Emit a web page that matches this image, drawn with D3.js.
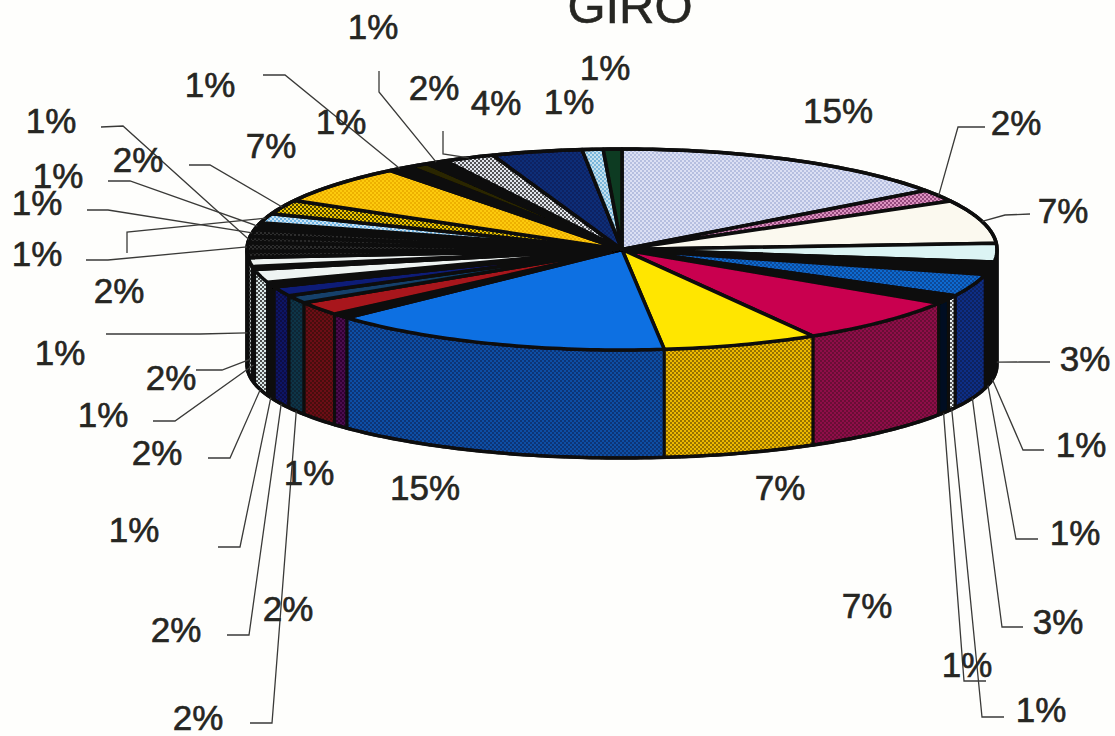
<!DOCTYPE html>
<html>
<head>
<meta charset="utf-8">
<script src="https://cdn.jsdelivr.net/npm/d3@7"></script>
<style>
html, body { margin: 0; padding: 0; background: #fefefc; }
svg { display: block; }
text { font-family: "Liberation Sans", Arial, sans-serif; fill: #262622; stroke: #262622; stroke-width: 0.6px; }
</style>
</head>
<body>
<div id="chart"></div>
<script>
const width = 1115, height = 736;
const title = 'GIRO';

// slice sizes read from the rim, clockwise from 12 o'clock
const values = [15, 2, 7, 3, 1, 1, 3.6, 0.6, 0.8, 7.5, 6.7, 14.9,
    0.8, 2.2, 1.3, 1.5, 0.8, 2.1, 0.5, 1.4,
    1, 1.4, 1, 1.1, 1.1, 1.5, 2.3, 6.3,
    1, 0.9, 0.9, 2.2, 3.9, 0.9, 0.8];
// printed labels
const labels = ['15%', '2%', '7%', '3%', '1%', '1%', '3%', '1%', '1%', '7%', '7%', '15%',
    '1%', '2%', '2%', '2%', '1%', '2%', '1%', '2%',
    '1%', '1%', '1%', '1%', '1%', '2%', '2%', '7%',
    '1%', '1%', '1%', '2%', '4%', '1%', '1%'];
// [base, dot] of the top face
const topFills = [['#dce0f4', '#aab4da'], ['#dd93c0', '#7c2f66'], ['#fbf9ef'], ['#dcf4f4'], ['#0a0a0a'], ['#0a0a0a'],
    ['#0d6ad0', '#0a3f86'], ['#0a0a0a'], ['#0a0a0a'], ['#c9024f'], ['#ffe600'], ['#0a6fe2'],
    ['#0a0a0a'], ['#a8161a'], ['#12406a'], ['#0c1c78'], ['#0a0a0a'], ['#eef3f2'], ['#0a0a0a'], ['#eef3f2'],
    ['#0c0c0c', '#333'], ['#0c0c0c', '#3a3a3a'], ['#0c0c0c', '#333'], ['#0c0c0c', '#3a3a3a'], ['#0a0a0a'],
    ['#6fb4e4', '#eef6fa'], ['#eec400', '#1a1a00'], ['#fdca0a', '#e8a800'],
    ['#0a0a0a'], ['#2a2500'], ['#0a0a0a'], ['#e2e6ec', '#222'], ['#0b2d78', '#08205a'], ['#7ab6da', '#dff0f6'], ['#0a3a20']];
// [base, dot] of the wall, only the front half shows
const sideFills = [['#fff'], ['#fff'], ['#fff'], ['#d8dfe0', '#111'], ['#0a0a0a'], ['#0a0a0a'],
    ['#0b2f86', '#071c50'], ['#e8eef0', '#222'], ['#060a20'], ['#8f0c48', '#5c0530'], ['#eeb900', '#7a5a00'], ['#0b4fa6', '#082c66'],
    ['#4c0c50', '#280428'], ['#6c1018', '#3a060c'], ['#0c3448', '#05202e'], ['#0a1266', '#050a3a'], ['#0a0a0a'], ['#dbe8e8', '#1a1a1a'], ['#0a0a0a'], ['#dfe6e6', '#111'],
    ['#0a0a0a'], ['#0a0a0a'], ['#0a0a0a'], ['#0a0a0a'], ['#0a0a0a'], ['#0a0a0a'], ['#0a0a0a'], ['#0a0a0a'],
    ['#0a0a0a'], ['#0a0a0a'], ['#0a0a0a'], ['#0a0a0a'], ['#0a0a0a'], ['#0a0a0a'], ['#0a0a0a']];
// label centres in px
const labelSpots = [[838, 110], [1016, 122], [1063, 210], [1085, 358], [1081, 444], [1075, 532], [1058, 621], [1041, 709], [967, 664], [867, 605], [780, 487], [425, 487],
    [309, 472], [288, 608], [198, 717], [176, 629], [134, 529], [157, 452], [103, 414], [171, 377],
    [60, 352], [37, 253], [51, 120], [37, 202], [58, 175], [119, 290], [138, 159], [271, 145],
    [210, 84], [341, 121], [373, 26], [434, 87], [496, 102], [569, 101], [605, 67]];
// leader bends: [free end, elbow, how far down the wall it lands]
const leaders = [null, [[985, 127], [958, 127], 0], [[1030, 214], [1005, 215], 0], [[1050, 362], [1020, 362], 0.95], [[1044, 450], [1023, 450], 1], [[1038, 539], [1016, 539], 1], [[1023, 627], [1002, 627], 1], [[1004, 717], [982, 717], 1], [[986, 681], [964, 681], 1], null, null, null,
    null, null, [[250, 723], [272, 723], 1], [[227, 635], [249, 635], 1], [[218, 547], [240, 547], 1], [[208, 458], [230, 458], 1], [[153, 421], [175, 421], 0.85], [[196, 370], [222, 370], 0.85],
    [[106, 334], [200, 334], 0.68], [[86, 260], [108, 260], 0], [[101, 127], [123, 126], 0], [[87, 210], [108, 210], 0], [[108, 181], [130, 181], 0], [[127, 253], [127, 232], 0], [[189, 165], [210, 165], 0], null,
    [[263, 75], [285, 75], 0], null, [[379, 71], [379, 92], 0], [[443, 131], [443, 154], 0], null, null, null];

const svg = d3.select('#chart').append('svg')
    .attr('width', width)
    .attr('height', height);
const defs = svg.append('defs');

// scan softness
defs.append('filter')
    .attr('id', 'soft')
    .append('feGaussianBlur')
    .attr('stdDeviation', 0.45);

// halftone look of the scan
const patternIds = new Map();
const fillOf = (spec) => {
    if (spec.length === 1) return spec[0];
    let key = spec.join('_');
    if (!patternIds.has(key)) {
        let id = `dot${patternIds.size}`;
        patternIds.set(key, id);
        let p = defs.append('pattern')
            .attr('id', id)
            .attr('patternUnits', 'userSpaceOnUse')
            .attr('width', 4)
            .attr('height', 4);
        p.append('rect').attr('width', 4).attr('height', 4).attr('fill', spec[0]);
        p.append('circle').attr('cx', 1).attr('cy', 1).attr('r', 1).attr('fill', spec[1]);
        p.append('circle').attr('cx', 3).attr('cy', 3).attr('r', 1).attr('fill', spec[1]);
    }
    return `url(#${patternIds.get(key)})`;
};

// the pie is flat on a unit circle, these scales tilt it
const xScale = d3.scaleLinear().domain([-1, 1]).range([247, 997]);
const yTop = d3.scaleLinear().domain([1, -1]).range([149, 350]);
const yBottom = d3.scaleLinear().domain([1, -1]).range([272, 458]);

const pie = d3.pie().sort(null).value(d => d);
const slices = pie(values);
const line = d3.line();

const rim = (a, yScale) => [xScale(Math.sin(a)), yScale(Math.cos(a))];
const rimPoints = (a0, a1, yScale) => {
    let n = Math.max(2, Math.ceil((a1 - a0) / 0.02));
    return d3.range(n + 1).map(i => rim(a0 + (a1 - a0) * i / n, yScale));
};

const pieG = svg.append('g').attr('filter', 'url(#soft)');

// walls: only what faces the viewer, far ones first
const front = slices
    .map((d, i) => ({
        i,
        a0: Math.max(d.startAngle, Math.PI / 2),
        a1: Math.min(d.endAngle, Math.PI * 1.5)
    }))
    .filter(d => d.a1 > d.a0)
    .sort((a, b) => Math.abs((b.a0 + b.a1) / 2 - Math.PI) - Math.abs((a.a0 + a.a1) / 2 - Math.PI));

pieG.selectAll('.wall')
    .data(front)
    .enter()
    .append('path')
    .attr('class', 'wall')
    .attr('d', d => line(rimPoints(d.a0, d.a1, yTop).concat(rimPoints(d.a0, d.a1, yBottom).reverse())) + 'Z')
    .attr('fill', d => fillOf(sideFills[d.i]))
    .attr('stroke', '#0a0a0a')
    .attr('stroke-width', 3)
    .attr('stroke-linejoin', 'round');

// top faces
pieG.selectAll('.face')
    .data(slices)
    .enter()
    .append('path')
    .attr('class', 'face')
    .attr('d', d => line([[xScale(0), yTop(0)]].concat(rimPoints(d.startAngle, d.endAngle, yTop))) + 'Z')
    .attr('fill', (d, i) => fillOf(topFills[i]))
    .attr('stroke', '#0a0a0a')
    .attr('stroke-width', 3.5)
    .attr('stroke-linejoin', 'round');

// heavy outline round the whole cake
pieG.append('path')
    .attr('d', line(rimPoints(-Math.PI / 2, Math.PI / 2, yTop).concat(rimPoints(Math.PI / 2, Math.PI * 1.5, yBottom))) + 'Z')
    .attr('fill', 'none')
    .attr('stroke', '#0a0a0a')
    .attr('stroke-width', 3.5)
    .attr('stroke-linejoin', 'round');

// leader lines start from the slice they belong to
const leaderG = svg.append('g');
slices.forEach((d, i) => {
    if (!leaders[i]) return;
    let mid = (d.startAngle + d.endAngle) / 2;
    let [end, bend, depth] = leaders[i];
    let t = rim(mid, yTop), b = rim(mid, yBottom);
    let anchor = [t[0], t[1] + (b[1] - t[1]) * depth];
    leaderG.append('path')
        .attr('d', line([end, bend, anchor]))
        .attr('fill', 'none')
        .attr('stroke', '#3a3a38')
        .attr('stroke-width', 1.3);
});

// percent labels
svg.append('g').selectAll('text')
    .data(labels)
    .enter()
    .append('text')
    .attr('x', (d, i) => labelSpots[i][0])
    .attr('y', (d, i) => labelSpots[i][1])
    .attr('dy', '0.36em')
    .attr('text-anchor', 'middle')
    .style('font-size', '35px')
    .text(d => d);

svg.append('text')
    .attr('x', 630)
    .attr('y', 23)
    .attr('text-anchor', 'middle')
    .style('font-size', '49px')
    .text(title);
</script>
</body>
</html>
